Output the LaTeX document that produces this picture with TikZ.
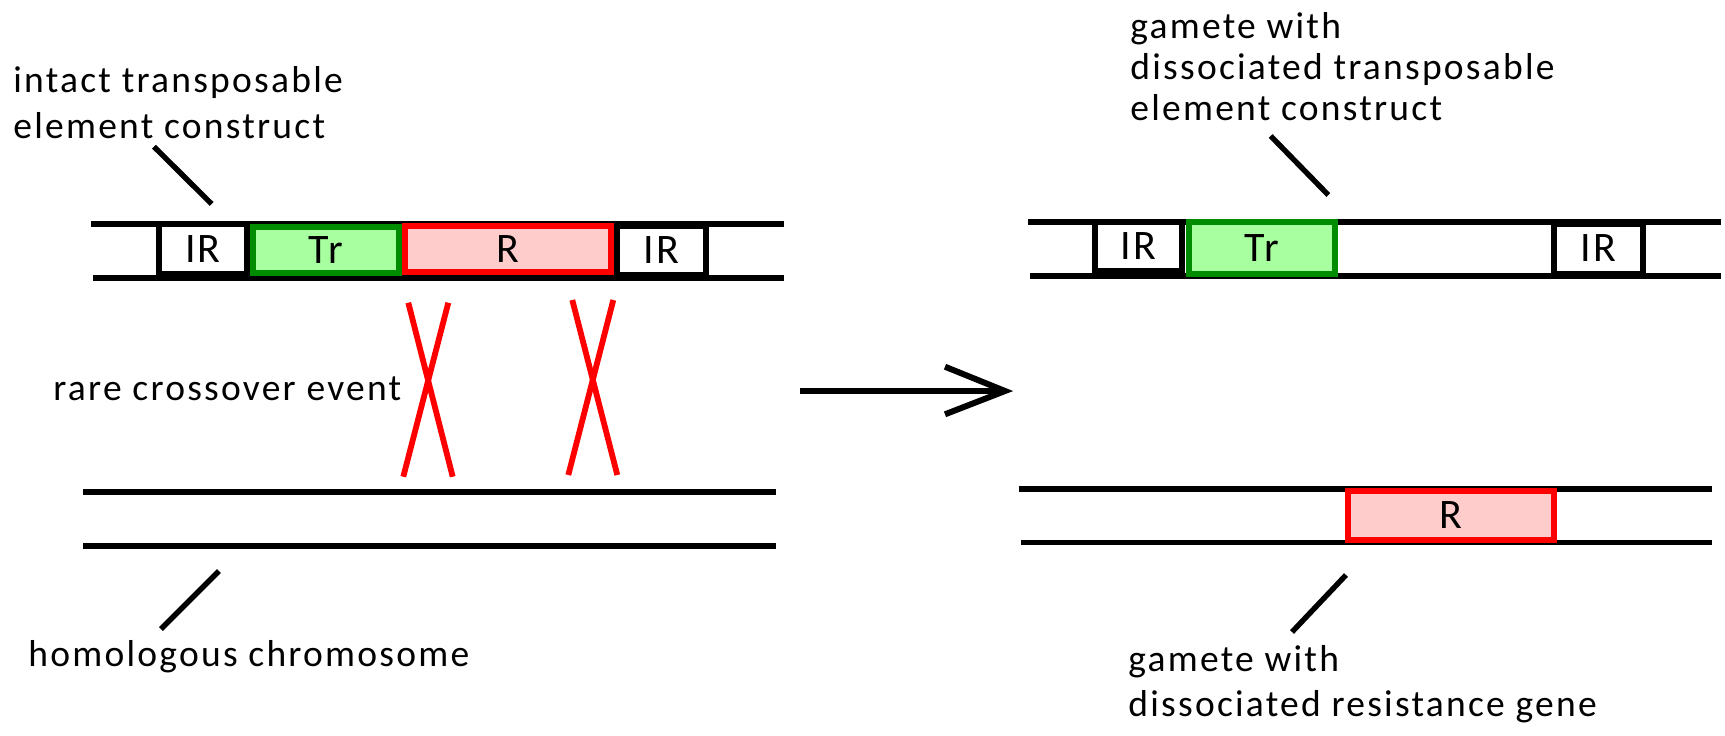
\documentclass[tikz,border=0pt]{standalone}
\usepackage{fontspec}
\setmainfont{Carlito}[LetterSpace=6]
\newfontfamily\boxfont{Carlito}[LetterSpace=5]
\definecolor{trgreen}{RGB}{0,140,0}
\definecolor{trfill}{RGB}{168,255,160}
\definecolor{rred}{RGB}{255,0,0}
\definecolor{rfill}{RGB}{255,204,204}
\begin{document}
\begin{tikzpicture}[x=0.5pt,y=-0.5pt,
  chrom/.style={line width=2.9pt},
  irbox/.style={draw=black,fill=white,line width=3pt,inner sep=0pt},
  trbox/.style={draw=trgreen,fill=trfill,line width=3pt,inner sep=0pt},
  rbox/.style={draw=rred,fill=rfill,line width=3pt,inner sep=0pt},
  xline/.style={draw=rred,line width=2.9pt},
  pointer/.style={line width=2.7pt},
  lbl/.style={font=\fontsize{18.75pt}{22pt}\selectfont,anchor=base west,inner sep=0pt},
  boxlbl/.style={font=\boxfont\fontsize{21pt}{24pt}\selectfont}]
\useasboundingbox[fill=white] (0,0) rectangle (1725,735);

% chromosome strands
\coordinate (la1) at (91,223.8);   \coordinate (la2) at (784,223.8);
\coordinate (lb1) at (93,278.3);   \coordinate (lb2) at (784,278.3);
\coordinate (ha1) at (83,492);     \coordinate (ha2) at (776,492);
\coordinate (hb1) at (83,546);     \coordinate (hb2) at (776,546);
\coordinate (ra1) at (1028,222);   \coordinate (ra2) at (1721,222);
\coordinate (rb1) at (1030,276.3); \coordinate (rb2) at (1721,276.3);
\coordinate (sa1) at (1018.5,488.7); \coordinate (sa2) at (1712,488.7);
\coordinate (sb1) at (1021,542.5);   \coordinate (sb2) at (1712,542.5);
\foreach \a/\b in {la1/la2,lb1/lb2,ha1/ha2,hb1/hb2,ra1/ra2,rb1/rb2,sa1/sa2,sb1/sb2}
  \draw[chrom] (\a) -- (\b);

% intact construct
\node[irbox,minimum width=44.2pt,minimum height=25pt] (irL1) at (202.8,249) {};
\node[boxlbl] (irL1t) at (irL1.center) {IR};
\node[trbox,minimum width=73pt,minimum height=23pt] (trL) at (326,250) {};
\node[boxlbl] (trLt) at (trL.center) {Tr};
\node[rbox,minimum width=103pt,minimum height=23.25pt] (rL) at (508,248.75) {};
\node[boxlbl] (rLt) at (rL.center) {R};
\node[irbox,minimum width=44.5pt,minimum height=24.5pt] (irL2) at (661.5,250.5) {};
\node[boxlbl] (irL2t) at (irL2.center) {IR};

% dissociated construct
\node[irbox,minimum width=43.75pt,minimum height=24.5pt] (irR1) at (1138.25,246.5) {};
\node[boxlbl] (irR1t) at (irR1.center) {IR};
\node[trbox,minimum width=73pt,minimum height=25.85pt] (trR) at (1262,247.85) {};
\node[boxlbl] (trRt) at (trR.center) {Tr};
\node[irbox,minimum width=44.5pt,minimum height=25pt] (irR2) at (1598.5,248.5) {};
\node[boxlbl] (irR2t) at (irR2.center) {IR};

% dissociated resistance gene
\node[rbox,minimum width=103pt,minimum height=24.5pt] (rR) at (1451,515.5) {};
\node[boxlbl] (rRt) at (rR.center) {R};

% crossover marks
\coordinate (x1a) at (408.3,302.7); \coordinate (x1b) at (452.7,476.7);
\coordinate (x1c) at (448.3,302.7); \coordinate (x1d) at (403.3,476.7);
\coordinate (x2a) at (572.3,300);   \coordinate (x2b) at (617.3,475);
\coordinate (x2c) at (613.3,300);   \coordinate (x2d) at (568.3,475);
\draw[xline] (x1a) -- (x1b);
\draw[xline] (x1c) -- (x1d);
\draw[xline] (x2a) -- (x2b);
\draw[xline] (x2c) -- (x2d);

% process arrow
\coordinate (arS) at (800,391);
\coordinate (arE) at (1005,391);
\coordinate (arU) at (945,366.7);
\coordinate (arD) at (945,414.3);
\draw[line width=3pt] (arS) -- (arE);
\draw[line width=3pt,line join=miter] (arU) -- (arE) -- (arD);

% labels
\node[lbl] (l1a) at (13,92) {intact transposable};
\node[lbl] (l1b) at (13,138) {element construct};
\node[lbl] (l2) at (53,400) {rare crossover event};
\node[lbl] (l3) at (28,666) {homologous chromosome};
\node[lbl] (l4a) at (1130,38) {gamete with};
\node[lbl] (l4b) at (1130,79.5) {dissociated transposable};
\node[lbl] (l4c) at (1130,120.5) {element construct};
\node[lbl] (l5a) at (1128,671) {gamete with};
\node[lbl] (l5b) at (1128,716) {dissociated resistance gene};

% pointer strokes
\coordinate (p1a) at (154,146.7);   \coordinate (p1b) at (211.7,204);
\coordinate (p2a) at (1270.7,136);  \coordinate (p2b) at (1328.3,195);
\coordinate (p3a) at (161,629);     \coordinate (p3b) at (219,571);
\coordinate (p4a) at (1292,632);    \coordinate (p4b) at (1346,575);
\draw[pointer] (p1a) -- (p1b);
\draw[pointer] (p2a) -- (p2b);
\draw[pointer] (p3a) -- (p3b);
\draw[pointer] (p4a) -- (p4b);
\end{tikzpicture}
\end{document}
